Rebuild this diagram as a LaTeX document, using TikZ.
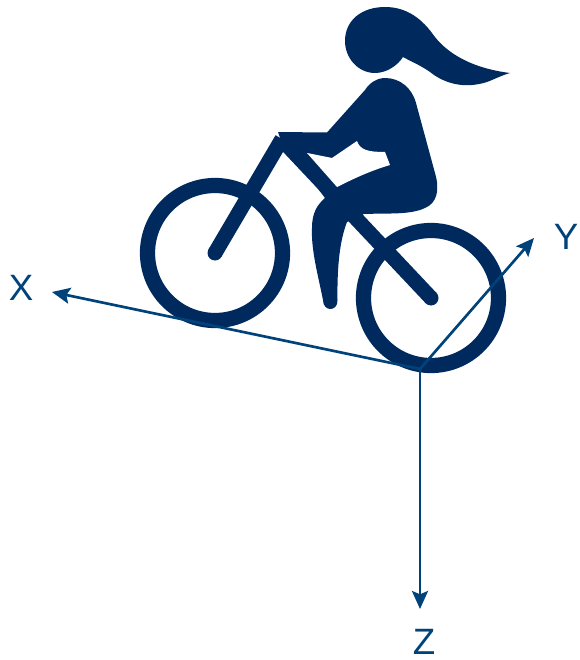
\documentclass[tikz,border=0pt]{standalone}
\usepackage{fontspec}
\setmainfont{Liberation Sans}
\usetikzlibrary{arrows.meta}
\definecolor{rider}{HTML}{002A5E}
\definecolor{axiscol}{HTML}{00437A}
\tikzset{
  wheel/.style={draw=rider,line width=11.4pt},
  bar/.style={draw=rider,line width=11.2pt},
  hub/.style={fill=rider,draw=none},
  solid shape/.style={fill=rider,draw=none},
  axis/.style={draw=axiscol,line width=2pt,-{Stealth[length=13.5pt,width=12pt,inset=2.5pt]}},
  axislabel/.style={text=axiscol,font=\fontsize{27.5}{27.5}\selectfont,inner sep=0pt}
}
\begin{document}
\begin{tikzpicture}[x=0.75pt,y=-0.75pt]
\useasboundingbox (0,0) rectangle (580,660);
% wheels
\draw[wheel] (215,253) circle (67.5);
\draw[wheel] (431,298) circle (67.5);
% frame
\fill[hub] (215,253) circle (7.5);
\fill[hub] (431,298) circle (7.5);
\draw[bar] (215,253) -- (282,139);
\draw[bar] (431,298) -- (284,142);
% head and ponytail
\fill[solid shape] (403,57)
  .. controls (398,65) and (387,73) .. (375,73)
  .. controls (358,73) and (345,58) .. (345,41)
  .. controls (345,20) and (362,7) .. (385,7)
  .. controls (405,7) and (420,17) .. (432,33)
  .. controls (445,52) and (470,68) .. (510,73)
  .. controls (500,76) and (495,79) .. (487,82)
  .. controls (465,89) and (445,84) .. (430,72)
  .. controls (420,65) and (412,62) .. (403,57) -- cycle;
% body
\fill[solid shape] (278,132) -- (327,132.5)
  -- (365,90)
  .. controls (370,82) and (378,78) .. (385,78)
  .. controls (400,78) and (412,88) .. (416,103)
  -- (435,173)
  .. controls (440,190) and (437,203) .. (425,208)
  .. controls (410,215) and (390,213) .. (364,214)
  -- (347,222)
  .. controls (340,240) and (337,265) .. (337.5,300)
  .. controls (338,312) and (323,312) .. (323,300)
  .. controls (318,275) and (311,250) .. (312,228)
  .. controls (312,213) and (317,205) .. (325,198)
  -- (300,165) -- (284,150) -- cycle;
% gap between arm, torso and thigh
\fill[white] (307,153) -- (332,158) -- (357,141)
  .. controls (360,150) and (368,152) .. (385,152)
  -- (390,165)
  .. controls (370,171) and (355,178) .. (337,187) -- cycle;
% axes
\coordinate (O) at (420,369);
\node[axislabel] (X) at (21,288) {X};
\node[axislabel] (Y) at (566,237) {Y};
\node[axislabel] (Z) at (424,642) {Z};
\coordinate (Xtip) at (52,292);
\coordinate (Ytip) at (534,238);
\coordinate (Ztip) at (420,609);
\draw[axis] (O) -- (Xtip);
\draw[axis] (O) -- (Ytip);
\draw[axis] (O) -- (Ztip);
\end{tikzpicture}
\end{document}
